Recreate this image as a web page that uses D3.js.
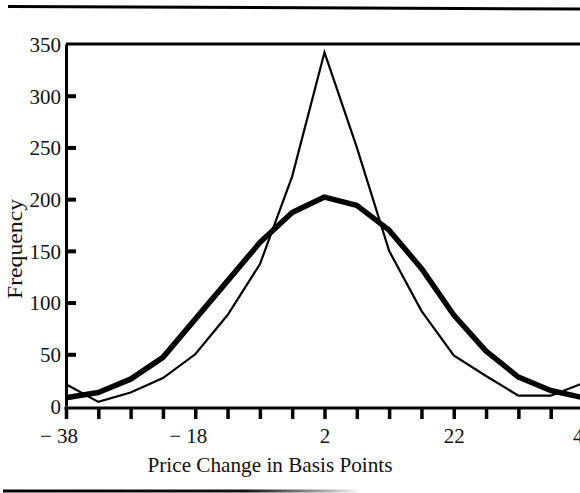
<!DOCTYPE html>
<html>
<head>
<meta charset="UTF-8">
<script src="https://d3js.org/d3.v7.min.js"></script>
<style>
  body { margin: 0; background: #fff; }
  svg { display: block; }
  .lbl { font-family: "Liberation Serif", "DejaVu Serif", serif; font-size: 21px; fill: #111; }
</style>
</head>
<body>
<div id="chart"></div>
<script>
// price change (basis points), one point every 5
const priceChange = [-38, -33, -28, -23, -18, -13, -8, -3, 2, 7, 12, 17, 22, 27, 32, 37, 42];
// thin line: observed frequency (peaked)
const observed = [21, 4, 13, 27, 50, 88, 137, 222, 342, 250, 150, 92, 49, 29, 10, 10, 22];
// thick line: normal curve
const normal = [8, 13, 26, 47, 84, 121, 158, 187, 202, 194, 170, 133, 88, 53, 28, 15, 8];
const xTickLabels = [-38, -18, 2, 22, 42];
const yTickLabels = [0, 50, 100, 150, 200, 250, 300, 350];

const W = 580, H = 493;
const svg = d3.select("#chart").append("svg").attr("width", W).attr("height", H);

const x = d3.scaleLinear().domain([-38, 42]).range([66, 583]);
const y = d3.scaleLinear().domain([0, 350]).range([406, 44]);

// rules at top and bottom of the page
const grad = svg.append("defs").append("linearGradient").attr("id", "fade");
grad.append("stop").attr("offset", "0").attr("stop-color", "#000");
grad.append("stop").attr("offset", "0.42").attr("stop-color", "#111");
grad.append("stop").attr("offset", "0.56").attr("stop-color", "#aaa");
grad.append("stop").attr("offset", "0.62").attr("stop-color", "#fff");
grad.append("stop").attr("offset", "1").attr("stop-color", "#fff");
svg.append("line").attr("x1", 8).attr("y1", 6.5).attr("x2", 580).attr("y2", 9)
  .attr("stroke", "#000").attr("stroke-width", 3);
svg.append("rect").attr("x", 3).attr("y", 489.5).attr("width", 577).attr("height", 3)
  .attr("fill", "url(#fade)");

// frame
const g = svg.append("g");
g.append("line").attr("x1", x(-38)).attr("x2", W).attr("y1", y(350)).attr("y2", y(350))
  .attr("stroke", "#000").attr("stroke-width", 3);

// y axis
const yAxis = g.append("g").attr("transform", `translate(${x(-38)},0)`)
  .call(d3.axisLeft(y).tickValues(yTickLabels).tickSize(0).tickPadding(5));
yAxis.select(".domain").attr("stroke", "#000").attr("stroke-width", 3);
yAxis.selectAll("text").attr("class", "lbl").attr("font-size", null).attr("font-family", null)
  .attr("dy", "0.35em");
yAxis.selectAll(".tick").filter(d => d > 0 && d < 350).append("line")
  .attr("x1", 0).attr("x2", 10).attr("stroke", "#000").attr("stroke-width", 4);

// x axis
const xAxis = g.append("g").attr("transform", `translate(0,${y(0) + 2})`)
  .call(d3.axisBottom(x).tickValues(d3.range(-38, 43, 5)).tickSize(11).tickSizeOuter(0)
    .tickFormat(d => xTickLabels.includes(d) ? (d < 0 ? "\u2212 " + Math.abs(d) : d) : ""));
xAxis.select(".domain").attr("stroke", "#000").attr("stroke-width", 3)
  .attr("d", `M${x(-38) - 1.5},0H${W}`);
xAxis.selectAll(".tick line").attr("stroke", "#000").attr("stroke-width", 3.5);
xAxis.selectAll("text").attr("class", "lbl").attr("font-size", null).attr("font-family", null)
  .attr("y", 20);
// keep the digits of negative labels centred on their tick
xAxis.selectAll(".tick text").filter(d => d < 0).each(function(d) {
  const t = d3.select(this);
  const tmp = svg.append("text").attr("class", "lbl").text(Math.abs(d));
  const wDigits = tmp.node().getComputedTextLength();
  tmp.remove();
  t.attr("text-anchor", "end").attr("x", wDigits / 2 + 1);
});

// curves
const line = d3.line().x((d, i) => x(priceChange[i])).y(d => y(d));
g.append("path").datum(normal).attr("d", line).attr("fill", "none")
  .attr("stroke", "#000").attr("stroke-width", 5.5).attr("stroke-linejoin", "round");
g.append("path").datum(observed).attr("d", line).attr("fill", "none")
  .attr("stroke", "#000").attr("stroke-width", 2.2).attr("stroke-linejoin", "miter");

// titles
svg.append("text").attr("class", "lbl").attr("x", 270).attr("y", 472)
  .attr("text-anchor", "middle").attr("textLength", 245).attr("lengthAdjust", "spacingAndGlyphs")
  .text("Price Change in Basis Points");
svg.append("text").attr("class", "lbl")
  .attr("transform", "translate(22,249) rotate(-90)")
  .attr("text-anchor", "middle").attr("textLength", 100).attr("lengthAdjust", "spacingAndGlyphs")
  .text("Frequency");
</script>
</body>
</html>
